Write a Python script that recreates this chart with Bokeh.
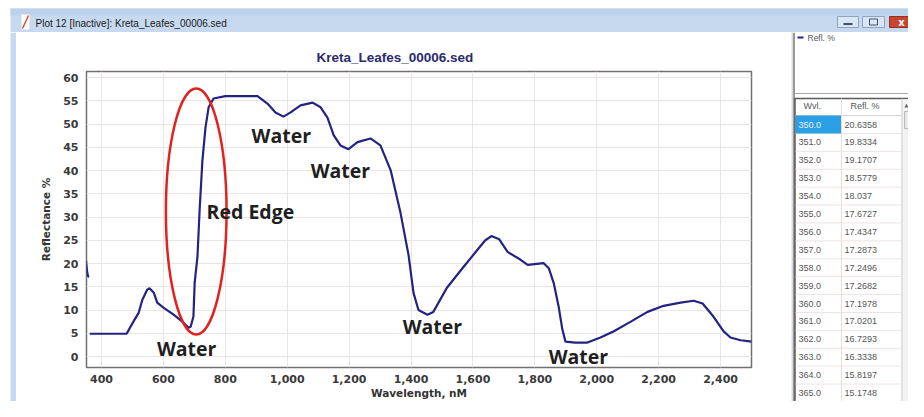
from bokeh.plotting import figure
from bokeh.models import Range1d, FixedTicker, NumeralTickFormatter
from bokeh.layouts import row, column
from bokeh.core.properties import value
from bokeh.embed import file_html
from bokeh.resources import INLINE

NAN = float("nan")

# ---------------- data ----------------
wavelength = [350, 352, 354, 356, 358, 360, 361, 362, 400, 440, 481,
              503, 520, 532, 548, 555, 569, 580, 600, 633, 661,
              681, 688, 697, 701, 710, 717, 726, 736, 746, 762,
              800, 850, 904, 936, 962, 988, 1011, 1043, 1082, 1108,
              1130, 1150, 1172, 1198, 1227, 1269, 1301, 1334, 1366, 1392,
              1408, 1424, 1453, 1472, 1516, 1570, 1614, 1640, 1660, 1685,
              1712, 1754, 1777, 1828, 1845, 1861, 1877, 1889, 1899, 1930,
              1970, 2012, 2054, 2110, 2164, 2216, 2271, 2313, 2342, 2377,
              2410, 2432, 2465, 2500]
reflectance = [20.6, 19.2, 18.0, 17.4, 17.2, 17.2, NAN, 4.9, 4.9, 4.9, 4.9,
               7.5, 9.4, 12.2, 14.4, 14.7, 13.7, 11.6, 10.5, 9.0, 7.5,
               6.2, 6.4, 8.6, 15.9, 21.5, 31.5, 42.2, 49.3, 53.6, 55.5,
               56.0, 56.0, 56.0, 54.4, 52.5, 51.6, 52.5, 54.0, 54.6, 53.6,
               51.4, 47.6, 45.4, 44.6, 46.1, 46.9, 45.4, 40.1, 30.9, 21.8,
               13.7, 10.0, 9.0, 9.6, 14.8, 19.3, 22.9, 25.0, 25.9, 25.2,
               22.5, 20.8, 19.7, 20.1, 19.0, 15.8, 10.7, 5.8, 3.2, 3.0,
               3.0, 4.1, 5.4, 7.5, 9.6, 10.9, 11.6, 12.0, 11.4, 8.6,
               5.4, 4.1, 3.5, 3.2]

x_ticks = [400, 600, 800, 1000, 1200, 1400, 1600, 1800, 2000, 2200, 2400]
y_ticks = [0, 5, 10, 15, 20, 25, 30, 35, 40, 45, 50, 55, 60]

ann_text = ["Water", "Water", "Red Edge", "Water", "Water", "Water"]
ann_x = [981, 1172, 881, 1469, 675, 1941]
ann_y = [47.6, 40.1, 31.1, 6.4, 1.7, 0.0]

ellipse_x = [706]
ellipse_y = [31.2]
ellipse_w = [196]
ellipse_h = [52.9]

table_wvl = ["350.0", "351.0", "352.0", "353.0", "354.0", "355.0", "356.0", "357.0",
             "358.0", "359.0", "360.0", "361.0", "362.0", "363.0", "364.0", "365.0"]
table_refl = ["20.6358", "19.8334", "19.1707", "18.5779", "18.037", "17.6727", "17.4347",
              "17.2873", "17.2496", "17.2682", "17.1978", "17.0201", "16.7293", "16.3338",
              "15.8197", "15.1748"]
table_headers = ["Wvl.", "Refl. %"]

chart_title = "Kreta_Leafes_00006.sed"
window_title = "Plot 12 [Inactive]: Kreta_Leafes_00006.sed"
legend_label = "Refl. %"
x_label = "Wavelength, nM"
y_label = "Reflectance %"

NAVY = "#232382"
FRAME_BLUE = "#c6d9ee"


def blank(width, height, xr, yr):
    f = figure(width=width, height=height, x_range=Range1d(*xr), y_range=Range1d(*yr),
               x_axis_type=None, y_axis_type=None, toolbar_location=None,
               output_backend="svg", min_border=0)
    f.outline_line_color = None
    f.background_fill_color = "white"
    f.border_fill_color = "white"
    return f


# ---------------- title bar (window chrome) ----------------
tb = blank(908, 32, (0, 908), (32, 0))
tb.quad(left=[10], right=[908], top=[8], bottom=[32], fill_color=FRAME_BLUE, line_color=None)
tb.quad(left=[10], right=[908], top=[8], bottom=[15], fill_color="#bcd1ea", line_color=None)
tb.quad(left=[21], right=[29], top=[14], bottom=[29], fill_color="white", line_color=None)
tb.segment(x0=[22], y0=[28], x1=[28], y1=[15], line_color="#d2552e", line_width=1.5)
tb.text(x=[35], y=[22.5], text=[window_title], text_font=value("Liberation Sans"),
        text_font_size="10px", text_baseline="middle", text_color="#1a1a1a")
tb.quad(left=[837, 862], right=[858, 884], top=[16, 16], bottom=[27, 27],
        fill_color="#d9e6f4", line_color="#8ea3c2")
tb.quad(left=[889], right=[917], top=[16], bottom=[27], fill_color="#c9452f", line_color="#8e3324")
tb.segment(x0=[843], y0=[23.5], x1=[852], y1=[23.5], line_color="#3d4f6e", line_width=2)
tb.quad(left=[869], right=[877], top=[18.5], bottom=[24.5], fill_color=None, line_color="#3d4f6e")
tb.text(x=[901], y=[21.5], text=["x"], text_font=value("DejaVu Sans"), text_font_style="bold",
        text_font_size="10px", text_align="center", text_baseline="middle", text_color="white")

# ---------------- left window border ----------------
strip = blank(16, 369, (0, 16), (401, 32))
strip.quad(left=[10], right=[16], top=[32], bottom=[401], fill_color=FRAME_BLUE, line_color=None)

# ---------------- main chart ----------------
p = figure(width=775, height=369, x_range=Range1d(351.5, 2500), y_range=Range1d(-2.36, 61.3),
           toolbar_location=None, output_backend="svg", title=chart_title,
           min_border_left=70, min_border_right=40, min_border_top=39, min_border_bottom=33)
p.background_fill_color = "white"
p.border_fill_color = "white"
p.outline_line_color = "#707070"
p.outline_line_width = 1.5

p.line(wavelength, reflectance, line_color=NAVY, line_width=2.2)
p.ellipse(x=ellipse_x, y=ellipse_y, width=ellipse_w, height=ellipse_h,
          fill_color=None, line_color="#e0231f", line_width=2.5)
p.text(x=ann_x, y=ann_y, text=ann_text, text_font=value("Open Sans"), text_font_style="bold",
       text_font_size="19.5px", text_align="center", text_baseline="middle", text_color="#1f1f1f")

p.xaxis.ticker = FixedTicker(ticks=x_ticks)
p.yaxis.ticker = FixedTicker(ticks=y_ticks)
p.xaxis.formatter = NumeralTickFormatter(format="0,0")
p.xgrid.ticker = FixedTicker(ticks=x_ticks)
p.ygrid.ticker = FixedTicker(ticks=y_ticks)
p.grid.grid_line_color = "#ece3e3"
p.grid.grid_line_width = 1

for ax in (p.xaxis, p.yaxis):
    ax.major_tick_in = 0
    ax.major_tick_out = 0
    ax.minor_tick_in = 0
    ax.minor_tick_out = 0
    ax.axis_line_color = None
    ax.major_label_text_font = "DejaVu Sans"
    ax.major_label_text_font_style = "bold"
    ax.major_label_text_font_size = "11px"
    ax.major_label_text_color = "#3a3a3a"
    ax.axis_label_text_font = "DejaVu Sans"
    ax.axis_label_text_font_style = "bold"
    ax.axis_label_text_font_size = "10.5px"
    ax.axis_label_text_color = "#333333"
p.xaxis.axis_label = x_label
p.yaxis.axis_label = y_label
p.xaxis.major_label_standoff = 7
p.yaxis.major_label_standoff = 8
p.xaxis.axis_label_standoff = 1
p.yaxis.axis_label_standoff = 8

p.title.text_font = "Liberation Sans"
p.title.text_font_style = "bold"
p.title.text_font_size = "13.5px"
p.title.text_color = "#2b2b6e"
p.title.align = "left"
p.title.offset = 230
p.title.standoff = 14

# ---------------- right panel (legend + table) ----------------
rp = blank(117, 369, (791, 908), (401, 32))
rp.segment(x0=[791.5, 793.5], y0=[32, 32], x1=[791.5, 793.5], y1=[401, 401],
           line_color=["#b4b4b4", "#7a7a7a"], line_width=[1, 1.5])
rp.segment(x0=[794], y0=[93], x1=[908], y1=[93], line_color="#a8a8a8", line_width=1)
rp.segment(x0=[797], y0=[37], x1=[803], y1=[37], line_color=NAVY, line_width=2)
rp.text(x=[807], y=[37], text=[legend_label], text_font=value("Liberation Sans"),
        text_font_size="8.5px", text_baseline="middle", text_color="#555555")

row_h = 17.9
first_c = 124.0
n = len(table_wvl)
centers = [first_c + i * row_h for i in range(n)]
seps = [first_c - row_h / 2 + (i + 1) * row_h for i in range(n - 1)]

rp.segment(x0=[794], y0=[98], x1=[908], y1=[98], line_color="#5a5a5a", line_width=1.5)
rp.segment(x0=[794.5], y0=[98], x1=[794.5], y1=[401], line_color="#5a5a5a", line_width=1.5)
rp.segment(x0=[795], y0=[first_c - row_h / 2], x1=[901], y1=[first_c - row_h / 2],
           line_color="#d8d0d0", line_width=1)
rp.segment(x0=[795] * len(seps), y0=seps, x1=[901] * len(seps), y1=seps,
           line_color="#f0e2e2", line_width=1)
rp.segment(x0=[841], y0=[98], x1=[841], y1=[401], line_color="#eddada", line_width=1)
rp.quad(left=[795], right=[840.5], top=[first_c - row_h / 2], bottom=[first_c + row_h / 2],
        fill_color="#2a9fe3", line_color=None)
rp.text(x=[803, 850], y=[105, 105], text=table_headers, text_font=value("Liberation Sans"),
        text_font_size="9px", text_baseline="middle", text_color="#555555")
wvl_colors = ["#e6f4ff"] + ["#555555"] * (n - 1)
rp.text(x=[798] * n, y=centers, text=table_wvl, text_font=value("Liberation Sans"),
        text_font_size="9px", text_baseline="middle", text_color=wvl_colors)
rp.text(x=[844] * n, y=centers, text=table_refl, text_font=value("Liberation Sans"),
        text_font_size="9px", text_baseline="middle", text_color="#555555")
rp.quad(left=[902], right=[908], top=[98.8], bottom=[401], fill_color="#f3f3f3", line_color=None)
rp.segment(x0=[901.5], y0=[98], x1=[901.5], y1=[401], line_color="#c8c8c8", line_width=1)
rp.quad(left=[904], right=[914], top=[111], bottom=[128], fill_color="#e9e9e9", line_color="#b8b8b8")
rp.text(x=[906], y=[104], text=["\u25b2"], text_font=value("DejaVu Sans"),
        text_font_size="5px", text_align="center", text_baseline="middle", text_color="#606060")

layout = column(tb, row(column(strip), p, column(rp)))

open("out.html", "w").write(file_html(layout, INLINE))
